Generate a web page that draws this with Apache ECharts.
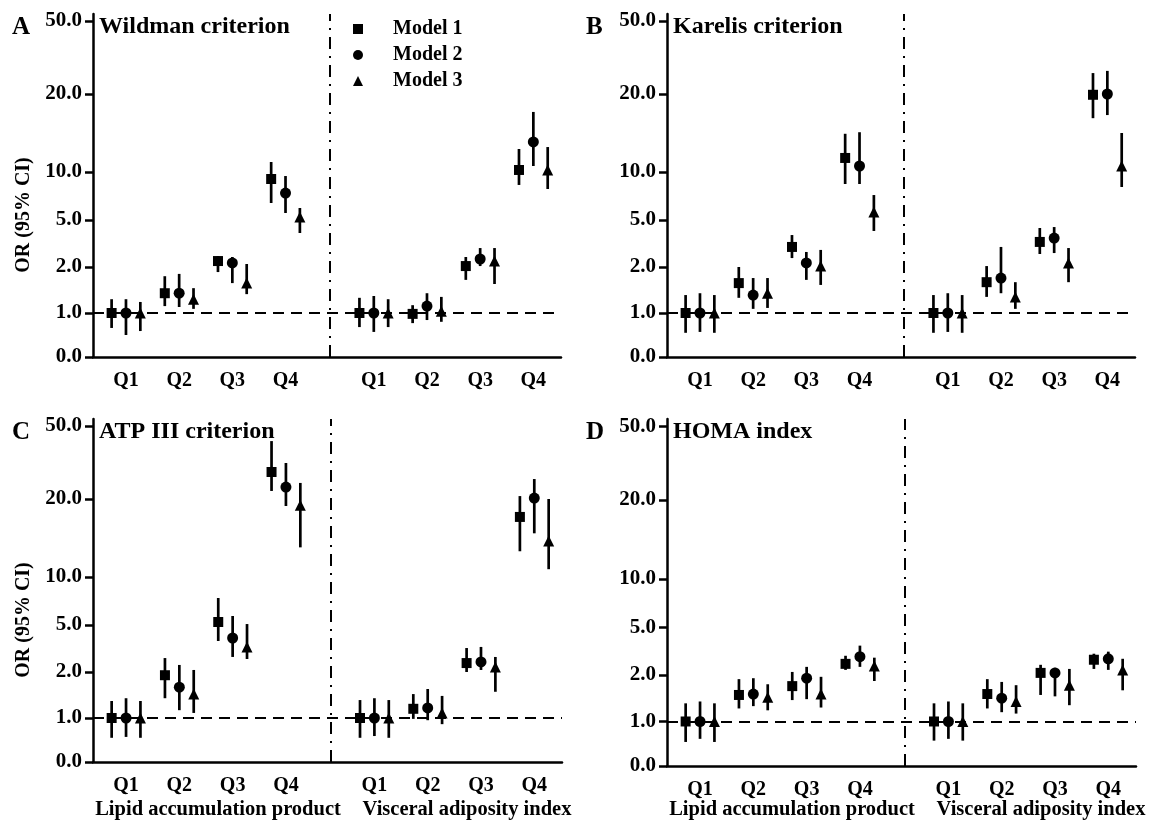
<!DOCTYPE html>
<html><head><meta charset="utf-8">
<script src="https://cdn.jsdelivr.net/npm/echarts@6/dist/echarts.min.js"></script>
<style>html,body{margin:0;padding:0;background:#fff}#c{width:1149px;height:829px}</style>
</head><body><div id="c"></div><script>
// ---------- data ----------
const quartiles = ['Q1','Q2','Q3','Q4'];
const sections = ['Lipid accumulation product','Visceral adiposity index'];
const models = ['Model 1','Model 2','Model 3'];
const yTickValues = [0, 1, 2, 5, 10, 20, 50];
// each array: [LAP Q1..Q4, VAI Q1..Q4]
// A: Wildman criterion
const wildman_m1_or = [1.0, 1.43, 2.38, 9.27, 1.0, 0.98, 2.06, 10.26];
const wildman_m1_lo = [0.66, 1.15, 1.89, 6.77, 0.68, 0.77, 1.72, 8.65];
const wildman_m1_hi = [1.30, 1.80, 2.70, 11.28, 1.33, 1.17, 2.64, 12.95];
const wildman_m2_or = [1.0, 1.43, 2.26, 7.81, 1.0, 1.15, 2.51, 13.85];
const wildman_m2_lo = [0.50, 1.13, 1.65, 5.73, 0.57, 0.84, 2.06, 10.77];
const wildman_m2_hi = [1.30, 1.85, 2.64, 9.58, 1.37, 1.43, 3.21, 17.7];
const wildman_m3_or = [1.0, 1.30, 1.65, 5.31, 1.0, 1.04, 2.38, 10.26];
const wildman_m3_lo = [0.59, 1.09, 1.41, 4.17, 0.68, 0.80, 1.63, 8.23];
const wildman_m3_hi = [1.24, 1.54, 2.19, 6.25, 1.30, 1.35, 3.21, 13.2];
// B: Karelis criterion
const karelis_m1_or = [1.0, 1.65, 3.28, 11.8, 1.0, 1.67, 3.6, 19.9];
const karelis_m1_lo = [0.55, 1.33, 2.57, 8.75, 0.55, 1.35, 2.83, 16.9];
const karelis_m1_hi = [1.39, 2.0, 4.04, 14.9, 1.39, 2.06, 4.49, 28.6];
const karelis_m2_or = [1.0, 1.39, 2.26, 10.77, 1.0, 1.76, 3.85, 20.0];
const karelis_m2_lo = [0.57, 1.09, 1.72, 8.75, 0.57, 1.43, 2.89, 17.3];
const karelis_m2_hi = [1.43, 1.76, 2.96, 15.1, 1.43, 3.28, 4.55, 29.5];
const karelis_m3_or = [1.0, 1.43, 2.06, 5.83, 1.0, 1.35, 2.26, 10.77];
const karelis_m3_lo = [0.55, 1.11, 1.61, 4.3, 0.55, 1.09, 1.67, 8.44];
const karelis_m3_hi = [1.39, 1.76, 3.09, 7.6, 1.39, 1.67, 3.21, 15.0];
// C: ATP III criterion
const atp_m1_or = [1.0, 1.93, 5.31, 31.1, 1.0, 1.2, 2.57, 17.7];
const atp_m1_lo = [0.55, 1.43, 3.98, 23.3, 0.55, 0.98, 2.0, 13.3];
const atp_m1_hi = [1.37, 2.89, 7.81, 43.8, 1.39, 1.52, 3.53, 21.2];
const atp_m2_or = [1.0, 1.67, 4.17, 24.9, 1.0, 1.22, 2.64, 20.4];
const atp_m2_lo = [0.57, 1.17, 2.96, 19.1, 0.59, 0.95, 2.13, 15.6];
const atp_m2_hi = [1.43, 2.45, 5.94, 34.8, 1.43, 1.63, 3.6, 28.2];
const atp_m3_or = [1.0, 1.52, 3.6, 19.2, 1.0, 1.11, 2.32, 14.6];
const atp_m3_lo = [0.55, 1.11, 2.83, 13.8, 0.55, 0.86, 1.57, 11.0];
const atp_m3_hi = [1.37, 2.13, 5.1, 26.6, 1.39, 1.48, 2.96, 20.0];
// D: HOMA index
const homa_m1_or = [1.0, 1.57, 1.76, 2.70, 1.0, 1.59, 2.13, 2.96];
const homa_m1_lo = [0.54, 1.28, 1.46, 2.32, 0.57, 1.28, 1.57, 2.38];
const homa_m1_hi = [1.39, 1.91, 2.19, 3.21, 1.39, 1.91, 2.64, 3.34];
const homa_m2_or = [1.0, 1.59, 1.93, 3.15, 1.0, 1.50, 2.13, 3.02];
const homa_m2_lo = [0.61, 1.33, 1.48, 2.51, 0.61, 1.20, 1.54, 2.32];
const homa_m2_hi = [1.43, 1.93, 2.51, 3.85, 1.43, 1.85, 2.45, 3.47];
const homa_m3_or = [1.0, 1.52, 1.59, 2.57, 1.0, 1.43, 1.78, 2.32];
const homa_m3_lo = [0.54, 1.24, 1.30, 1.87, 0.57, 1.17, 1.35, 1.67];
const homa_m3_hi = [1.39, 1.80, 1.96, 3.09, 1.39, 1.78, 2.38, 3.02];

// ---------- layout / scale ----------
const FONT = "'Liberation Serif','Times New Roman',serif";
// segmented OR axis: tick values -> axis units
const yTickPos = [0, 44, 90, 137, 185, 263, 336];
const Y_MAX = 343;
function toAxis(v) {
  for (let i = 1; i < yTickValues.length; i++) {
    if (v <= yTickValues[i]) {
      const a = yTickValues[i-1], b = yTickValues[i];
      return yTickPos[i-1] + (v - a) / (b - a) * (yTickPos[i] - yTickPos[i-1]);
    }
  }
  return yTickPos[yTickPos.length-1];
}
const X_MAX = 8.8;
const sectionStart = [0.62, 5.28];
const SEP_X = 4.455;
const modelOffset = [-0.27, 0, 0.27];
const modelSymbol = ['rect', 'circle', 'triangle'];
const modelSize = [10, 11, 11];
const qPos = [];
sectionStart.forEach(s => quartiles.forEach((q, i) => qPos.push(s + i)));

const panels = [
  {letter:'A', title:'Wildman criterion', grid:{left:93, top:14, width:468, height:343},
   d:[[wildman_m1_or,wildman_m1_lo,wildman_m1_hi],[wildman_m2_or,wildman_m2_lo,wildman_m2_hi],[wildman_m3_or,wildman_m3_lo,wildman_m3_hi]]},
  {letter:'B', title:'Karelis criterion', grid:{left:667, top:14, width:468, height:343},
   d:[[karelis_m1_or,karelis_m1_lo,karelis_m1_hi],[karelis_m2_or,karelis_m2_lo,karelis_m2_hi],[karelis_m3_or,karelis_m3_lo,karelis_m3_hi]]},
  {letter:'C', title:'ATP III criterion', grid:{left:93, top:419, width:469, height:343},
   d:[[atp_m1_or,atp_m1_lo,atp_m1_hi],[atp_m2_or,atp_m2_lo,atp_m2_hi],[atp_m3_or,atp_m3_lo,atp_m3_hi]]},
  {letter:'D', title:'HOMA index', grid:{left:667, top:419, width:469, height:347},
   d:[[homa_m1_or,homa_m1_lo,homa_m1_hi],[homa_m2_or,homa_m2_lo,homa_m2_hi],[homa_m3_or,homa_m3_lo,homa_m3_hi]]}
];

function nearestIdx(arr, v) {
  let bi = 0, bd = Infinity;
  arr.forEach((a, i) => { const d = Math.abs(a - v); if (d < bd) { bd = d; bi = i; } });
  return bi;
}

const grids = [], xAxes = [], yAxes = [], series = [], graphics = [];
panels.forEach((p, pi) => {
  grids.push(Object.assign({containLabel:false}, p.grid));
  xAxes.push({
    gridIndex: pi, type:'value', min:0, max:X_MAX,
    axisLine:{show:true, onZero:false, lineStyle:{color:'#000', width:2.5}},
    axisTick:{show:false}, splitLine:{show:false},
    axisLabel:{customValues:qPos, formatter:(v)=>quartiles[nearestIdx(qPos, v) % 4],
      margin:14, color:'#000', fontFamily:FONT, fontWeight:'bold', fontSize:20}
  });
  yAxes.push({
    gridIndex: pi, type:'value', min:0, max:Y_MAX,
    axisLine:{show:true, onZero:false, lineStyle:{color:'#000', width:2.5}},
    axisTick:{show:true, customValues:yTickPos, length:8, lineStyle:{color:'#000', width:2.5}},
    splitLine:{show:false},
    axisLabel:{customValues:yTickPos, formatter:(v)=>yTickValues[nearestIdx(yTickPos, v)].toFixed(1),
      margin:11, color:'#000', fontFamily:FONT, fontWeight:'bold', fontSize:21}
  });
  p.d.forEach((md, mi) => {
    const [orArr, loArr, hiArr] = md;
    const bars = [], pts = [];
    orArr.forEach((v, k) => {
      const s = Math.floor(k / 4), q = k % 4;
      const x = sectionStart[s] + q + modelOffset[mi];
      bars.push([x, toAxis(loArr[k]), toAxis(hiArr[k])]);
      pts.push([x, toAxis(v)]);
    });
    series.push({
      type:'custom', xAxisIndex:pi, yAxisIndex:pi, data:bars, silent:true, z:3,
      encode:{x:0, y:[1,2]},
      renderItem:(params, api) => {
        const a = api.coord([api.value(0), api.value(1)]);
        const b = api.coord([api.value(0), api.value(2)]);
        return {type:'line', shape:{x1:a[0], y1:a[1], x2:b[0], y2:b[1]},
          style:{stroke:'#000', lineWidth:2.7}};
      }
    });
    const sc = {
      type:'scatter', name:models[mi], xAxisIndex:pi, yAxisIndex:pi, data:pts, z:4,
      symbol:modelSymbol[mi], symbolSize:modelSize[mi], itemStyle:{color:'#000', opacity:1}, silent:true
    };
    if (mi === 0) {
      sc.markLine = {
        silent:true, symbol:'none', label:{show:false}, animation:false,
        data:[
          {yAxis: toAxis(1), lineStyle:{color:'#000', width:2, type:[11,7]}},
          {xAxis: SEP_X, lineStyle:{color:'#000', width:2, type:[12,7,2,7]}}
        ]
      };
    }
    series.push(sc);
  });
  const gx = p.grid.left, gy = p.grid.top;
  graphics.push({type:'text', left: gx - 81, top: gy + 1, style:{text:p.letter, fill:'#000', font:'bold 25px ' + FONT}});
  graphics.push({type:'text', left: gx + 6, top: gy + 1, style:{text:p.title, fill:'#000', font:'bold 24px ' + FONT}});
  if (pi % 2 === 0) {
    graphics.push({type:'text', x: 24, y: gy + 201, rotation: Math.PI/2,
      style:{text:'OR (95% CI)', fill:'#000', font:'bold 20px ' + FONT, textAlign:'center', textVerticalAlign:'middle', align:'center', verticalAlign:'middle'}});
  }
  if (pi >= 2) {
    graphics.push({type:'text', x: gx + 125, y: 810,
      style:{text:sections[0], fill:'#000', font:'bold 20.5px ' + FONT, textAlign:'center', textVerticalAlign:'middle', align:'center', verticalAlign:'middle'}});
    graphics.push({type:'text', x: gx + 374, y: 810,
      style:{text:sections[1], fill:'#000', font:'bold 20.5px ' + FONT, textAlign:'center', textVerticalAlign:'middle', align:'center', verticalAlign:'middle'}});
  }
});

const chart = echarts.init(document.getElementById('c'), null, {renderer:'canvas'});
chart.setOption({
  backgroundColor:'#fff',
  animation:false,
  grid:grids, xAxis:xAxes, yAxis:yAxes, series:series,
  legend:{
    left:348, top:14, orient:'vertical', itemWidth:10, itemHeight:10, itemGap:6, selectedMode:false,
    data:[{name:'Model 1', icon:'rect'},{name:'Model 2', icon:'circle'},{name:'Model 3', icon:'triangle'}],
    textStyle:{fontFamily:FONT, fontWeight:'bold', fontSize:20, color:'#000', lineHeight:20, padding:[0,0,0,25]}
  },
  graphic:graphics
});
</script></body></html>
